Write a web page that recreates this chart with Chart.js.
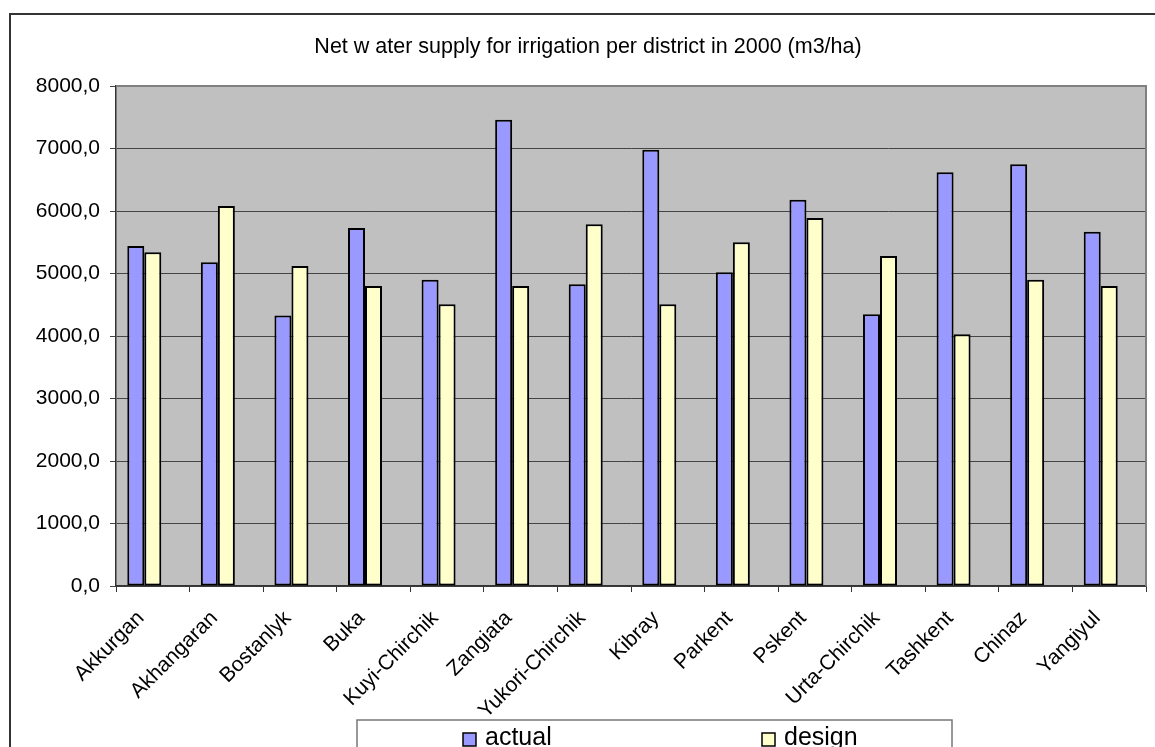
<!DOCTYPE html>
<html>
<head>
<meta charset="utf-8">
<title>Net water supply</title>
<script src="https://cdn.jsdelivr.net/npm/chart.js@4.4.1/dist/chart.umd.min.js"></script>
<style>
  html, body { margin: 0; padding: 0; background: #fff; overflow: hidden; }
  #chart { display: block; }
</style>
</head>
<body>
<canvas id="chart" width="1155" height="747"></canvas>
<script>
const titleText = 'Net w ater supply for irrigation per district in 2000 (m3/ha)';

const categories = [
  'Akkurgan', 'Akhangaran', 'Bostanlyk', 'Buka', 'Kuyi-Chirchik', 'Zangiata',
  'Yukori-Chirchik', 'Kibray', 'Parkent', 'Pskent', 'Urta-Chirchik',
  'Tashkent', 'Chinaz', 'Yangiyul'
];

const actual = [5440, 5180, 4330, 5730, 4900, 7460, 4830, 6980, 5020, 6180, 4350, 6620, 6750, 5670];
const design = [5340, 6080, 5120, 4800, 4510, 4800, 5790, 4510, 5500, 5890, 5280, 4030, 4900, 4800];

const yTicks = [0, 1000, 2000, 3000, 4000, 5000, 6000, 7000, 8000];

const FONT = "'Liberation Sans', Arial, sans-serif";

// grey plot area, frame, title and the legend box (Excel look)
const excelLook = {
  id: 'excelLook',
  beforeDraw(chart) {
    const { ctx, chartArea: a } = chart;
    ctx.save();
    ctx.fillStyle = '#c0c0c0';
    ctx.fillRect(a.left, a.top, a.right - a.left, a.bottom - a.top);
    ctx.restore();
  },
  afterDraw(chart) {
    const { ctx, chartArea: a } = chart;
    ctx.save();
    // top and right edge of the plot
    ctx.strokeStyle = '#808080';
    ctx.lineWidth = 2;
    ctx.beginPath();
    ctx.moveTo(a.left, a.top);
    ctx.lineTo(a.right, a.top);
    ctx.lineTo(a.right, a.bottom);
    ctx.stroke();

    // outer frame
    ctx.strokeStyle = '#333';
    ctx.lineWidth = 2;
    ctx.strokeRect(10, 14, 2000, 2000);

    // title
    ctx.fillStyle = '#000';
    ctx.font = '21.5px ' + FONT;
    ctx.textAlign = 'center';
    ctx.textBaseline = 'middle';
    ctx.fillText(titleText, 588, 47);

    // legend
    ctx.fillStyle = '#fff';
    ctx.fillRect(357, 720, 595, 60);
    ctx.strokeStyle = '#777';
    ctx.lineWidth = 1.5;
    ctx.strokeRect(357, 720, 595, 60);
    const items = [[463, 0], [762, 1]];
    ctx.font = '25px ' + FONT;
    ctx.textAlign = 'left';
    ctx.textBaseline = 'alphabetic';
    items.forEach(([x, i]) => {
      const ds = chart.data.datasets[i];
      ctx.fillStyle = ds.backgroundColor;
      ctx.fillRect(x, 733, 13, 13);
      ctx.strokeStyle = '#000';
      ctx.lineWidth = 1.5;
      ctx.strokeRect(x, 733, 13, 13);
      ctx.fillStyle = '#000';
      ctx.fillText(ds.label, x + 22, 745);
    });
    ctx.restore();
  }
};

new Chart(document.getElementById('chart'), {
  type: 'bar',
  data: {
    labels: categories,
    datasets: [
      { label: 'actual', data: actual, backgroundColor: '#9999ff' },
      { label: 'design', data: design, backgroundColor: '#ffffcc' },
      // empty slot so the pair sits left in each category, like the original
      { label: '', data: categories.map(() => null), backgroundColor: 'transparent' }
    ]
  },
  options: {
    responsive: false,
    animation: false,
    devicePixelRatio: 1,
    layout: { padding: { top: 86, right: 9, left: 0, bottom: 0 } },
    datasets: {
      bar: {
        borderColor: '#000',
        borderWidth: 2,
        borderSkipped: false,
        barPercentage: 1,
        categoryPercentage: 0.693
      }
    },
    plugins: {
      legend: { display: false },
      title: { display: false },
      tooltip: { enabled: false }
    },
    scales: {
      x: {
        afterFit(scale) { scale.height = 161; },
        grid: {
          drawOnChartArea: false,
          color: '#333',
          tickLength: 6,
          offset: true
        },
        border: { color: '#333', width: 1.5 },
        ticks: {
          color: '#000',
          font: { family: FONT, size: 21 },
          minRotation: 45,
          maxRotation: 45,
          autoSkip: false,
          padding: 14,
          labelOffset: -12
        }
      },
      y: {
        min: 0,
        max: 8000,
        afterFit(scale) { scale.width = 116; },
        afterBuildTicks(scale) { scale.ticks = yTicks.map(v => ({ value: v })); },
        grid: { color: '#444', lineWidth: 1, tickLength: 6 },
        border: { color: '#333', width: 1.5 },
        ticks: {
          color: '#000',
          padding: 10,
          font: { family: FONT, size: 21 },
          callback: v => v.toFixed(1).replace('.', ',')
        }
      }
    }
  },
  plugins: [excelLook]
});
</script>
</body>
</html>
